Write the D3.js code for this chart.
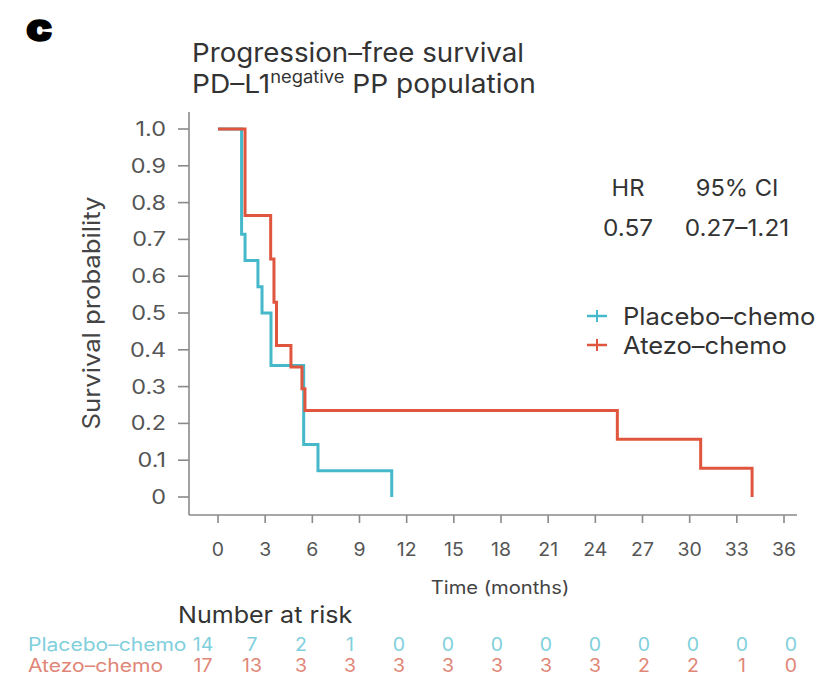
<!DOCTYPE html>
<html><head><meta charset="utf-8">
<script src="https://cdn.jsdelivr.net/npm/d3@7"></script>
<style>body{margin:0;background:#fff}svg{display:block}text{font-family:Inter,Roboto,"Liberation Sans",sans-serif}</style>
</head><body><svg id="c" width="833" height="684"></svg>
<script>
const xTicks = [0,3,6,9,12,15,18,21,24,27,30,33,36];
const yTicks = [0,0.1,0.2,0.3,0.4,0.5,0.6,0.7,0.8,0.9,1.0];
const yTickLabels = ["0","0.1","0.2","0.3","0.4","0.5","0.6","0.7","0.8","0.9","1.0"];
const seriesNames = ["Placebo–chemo","Atezo–chemo"];
const placeboTime = [0,1.5,1.72,2.54,2.8,3.37,5.45,6.36,11.05];
const placeboSurv = [1,0.714,0.643,0.571,0.5,0.357,0.143,0.071,0];
const atezoTime = [0,1.72,3.35,3.56,3.72,4.64,5.34,5.53,25.4,30.7,33.97];
const atezoSurv = [1,0.765,0.647,0.529,0.412,0.353,0.294,0.235,0.157,0.078,0];
const riskTimes = [0,3,6,9,12,15,18,21,24,27,30,33,36];
const placeboRisk = [14,7,2,1,0,0,0,0,0,0,0,0,0];
const atezoRisk = [17,13,3,3,3,3,3,3,3,2,2,1,0];
const hrLabels = ["HR","95% CI"];
const hrValues = ["0.57","0.27–1.21"];

const colors = ["#45b9ca","#e0553d"];
const riskColors = ["#7fcfdc","#e08677"];

const svg = d3.select("#c");
const x = d3.scaleLinear().domain([0,36]).range([218,784]);
const y = d3.scaleLinear().domain([0,1]).range([497,129]);
const xr = d3.scaleLinear().domain([0,36]).range([203,791]);

// helper: text placed at (px,py), stretched horizontally by sx
function txt(parent, px, py, str, size, sx, anchor, fill){
  return parent.append("text").attr("transform",`translate(${px},${py}) scale(${sx},1)`)
    .attr("font-size",size).attr("text-anchor",anchor||"start").attr("fill",fill||"#333").text(str);
}

txt(svg,26,41,"c",38,1.15,"start","#000").attr("font-weight",900)
  .attr("font-family","'DejaVu Sans',sans-serif").attr("stroke","#000").attr("stroke-width",1.3);
txt(svg,192,62,"Progression–free survival",26,1.065);
const t2 = txt(svg,192,93,"",26,1.08);
t2.append("tspan").text("PD–L1");
t2.append("tspan").attr("font-size",17).attr("dy",-10).text("negative");
t2.append("tspan").attr("dy",10).text(" PP population");

// axes
const axisColor = "#8a8a8a";
const gy = svg.append("g").attr("transform","translate(189,0)");
gy.append("line").attr("x1",0).attr("x2",0).attr("y1",112).attr("y2",515).attr("stroke",axisColor).attr("stroke-width",1.6);
gy.selectAll(".t").data(yTicks).join("line").attr("x1",-11).attr("x2",0).attr("y1",d=>y(d)).attr("y2",d=>y(d)).attr("stroke",axisColor).attr("stroke-width",1.6);
yTicks.forEach((d,i)=>txt(gy,-23,y(d)+7,yTickLabels[i],19.5,1.2,"end","#555"));

const gx = svg.append("g").attr("transform","translate(0,515)");
gx.append("line").attr("x1",189).attr("x2",797).attr("y1",0).attr("y2",0).attr("stroke",axisColor).attr("stroke-width",1.6);
gx.selectAll(".t").data(xTicks).join("line").attr("x1",d=>x(d)).attr("x2",d=>x(d)).attr("y1",0).attr("y2",8).attr("stroke",axisColor).attr("stroke-width",1.6);
xTicks.forEach(d=>txt(gx,x(d),41,d,18.5,1.05,"middle","#555"));

svg.append("text").attr("transform","translate(100,313) rotate(-90) scale(1.07,1)").attr("text-anchor","middle").attr("font-size",24).attr("fill","#444").text("Survival probability");
txt(svg,500,594,"Time (months)",18,1.12,"middle","#444");

// curves
const line = d3.line().x(d=>x(d[0])).y(d=>y(d[1])).curve(d3.curveStepAfter);
[[placeboTime,placeboSurv],[atezoTime,atezoSurv]].forEach((s,i)=>{
  const pts = s[0].map((t,j)=>[t,s[1][j]]);
  svg.append("path").attr("d",line(pts)).attr("fill","none").attr("stroke",colors[i]).attr("stroke-width",3);
});

// HR block
const hrX = [628,737];
hrLabels.forEach((t,i)=>txt(svg,hrX[i],196,t,23,1.03,"middle"));
hrValues.forEach((t,i)=>txt(svg,hrX[i],236,t,23,1.06,"middle"));

// legend
const legY = [325,354];
seriesNames.forEach((n,i)=>{
  const g = svg.append("g").attr("transform",`translate(0,${legY[i]})`);
  g.append("line").attr("x1",587).attr("x2",607).attr("y1",-9).attr("y2",-9).attr("stroke",colors[i]).attr("stroke-width",2.5);
  g.append("line").attr("x1",597).attr("x2",597).attr("y1",-15).attr("y2",-3).attr("stroke",colors[i]).attr("stroke-width",2);
  txt(g,623,0,n,24,1.065);
});

// risk table
txt(svg,178,623,"Number at risk",23,1.09);
[placeboRisk,atezoRisk].forEach((r,i)=>{
  const yy = 651 + i*21;
  txt(svg,28,yy,seriesNames[i],18,1.17,"start",riskColors[i]);
  r.forEach((d,j)=>txt(svg,xr(riskTimes[j]),yy,d,18,1.08,"middle",riskColors[i]));
});
</script></body></html>
